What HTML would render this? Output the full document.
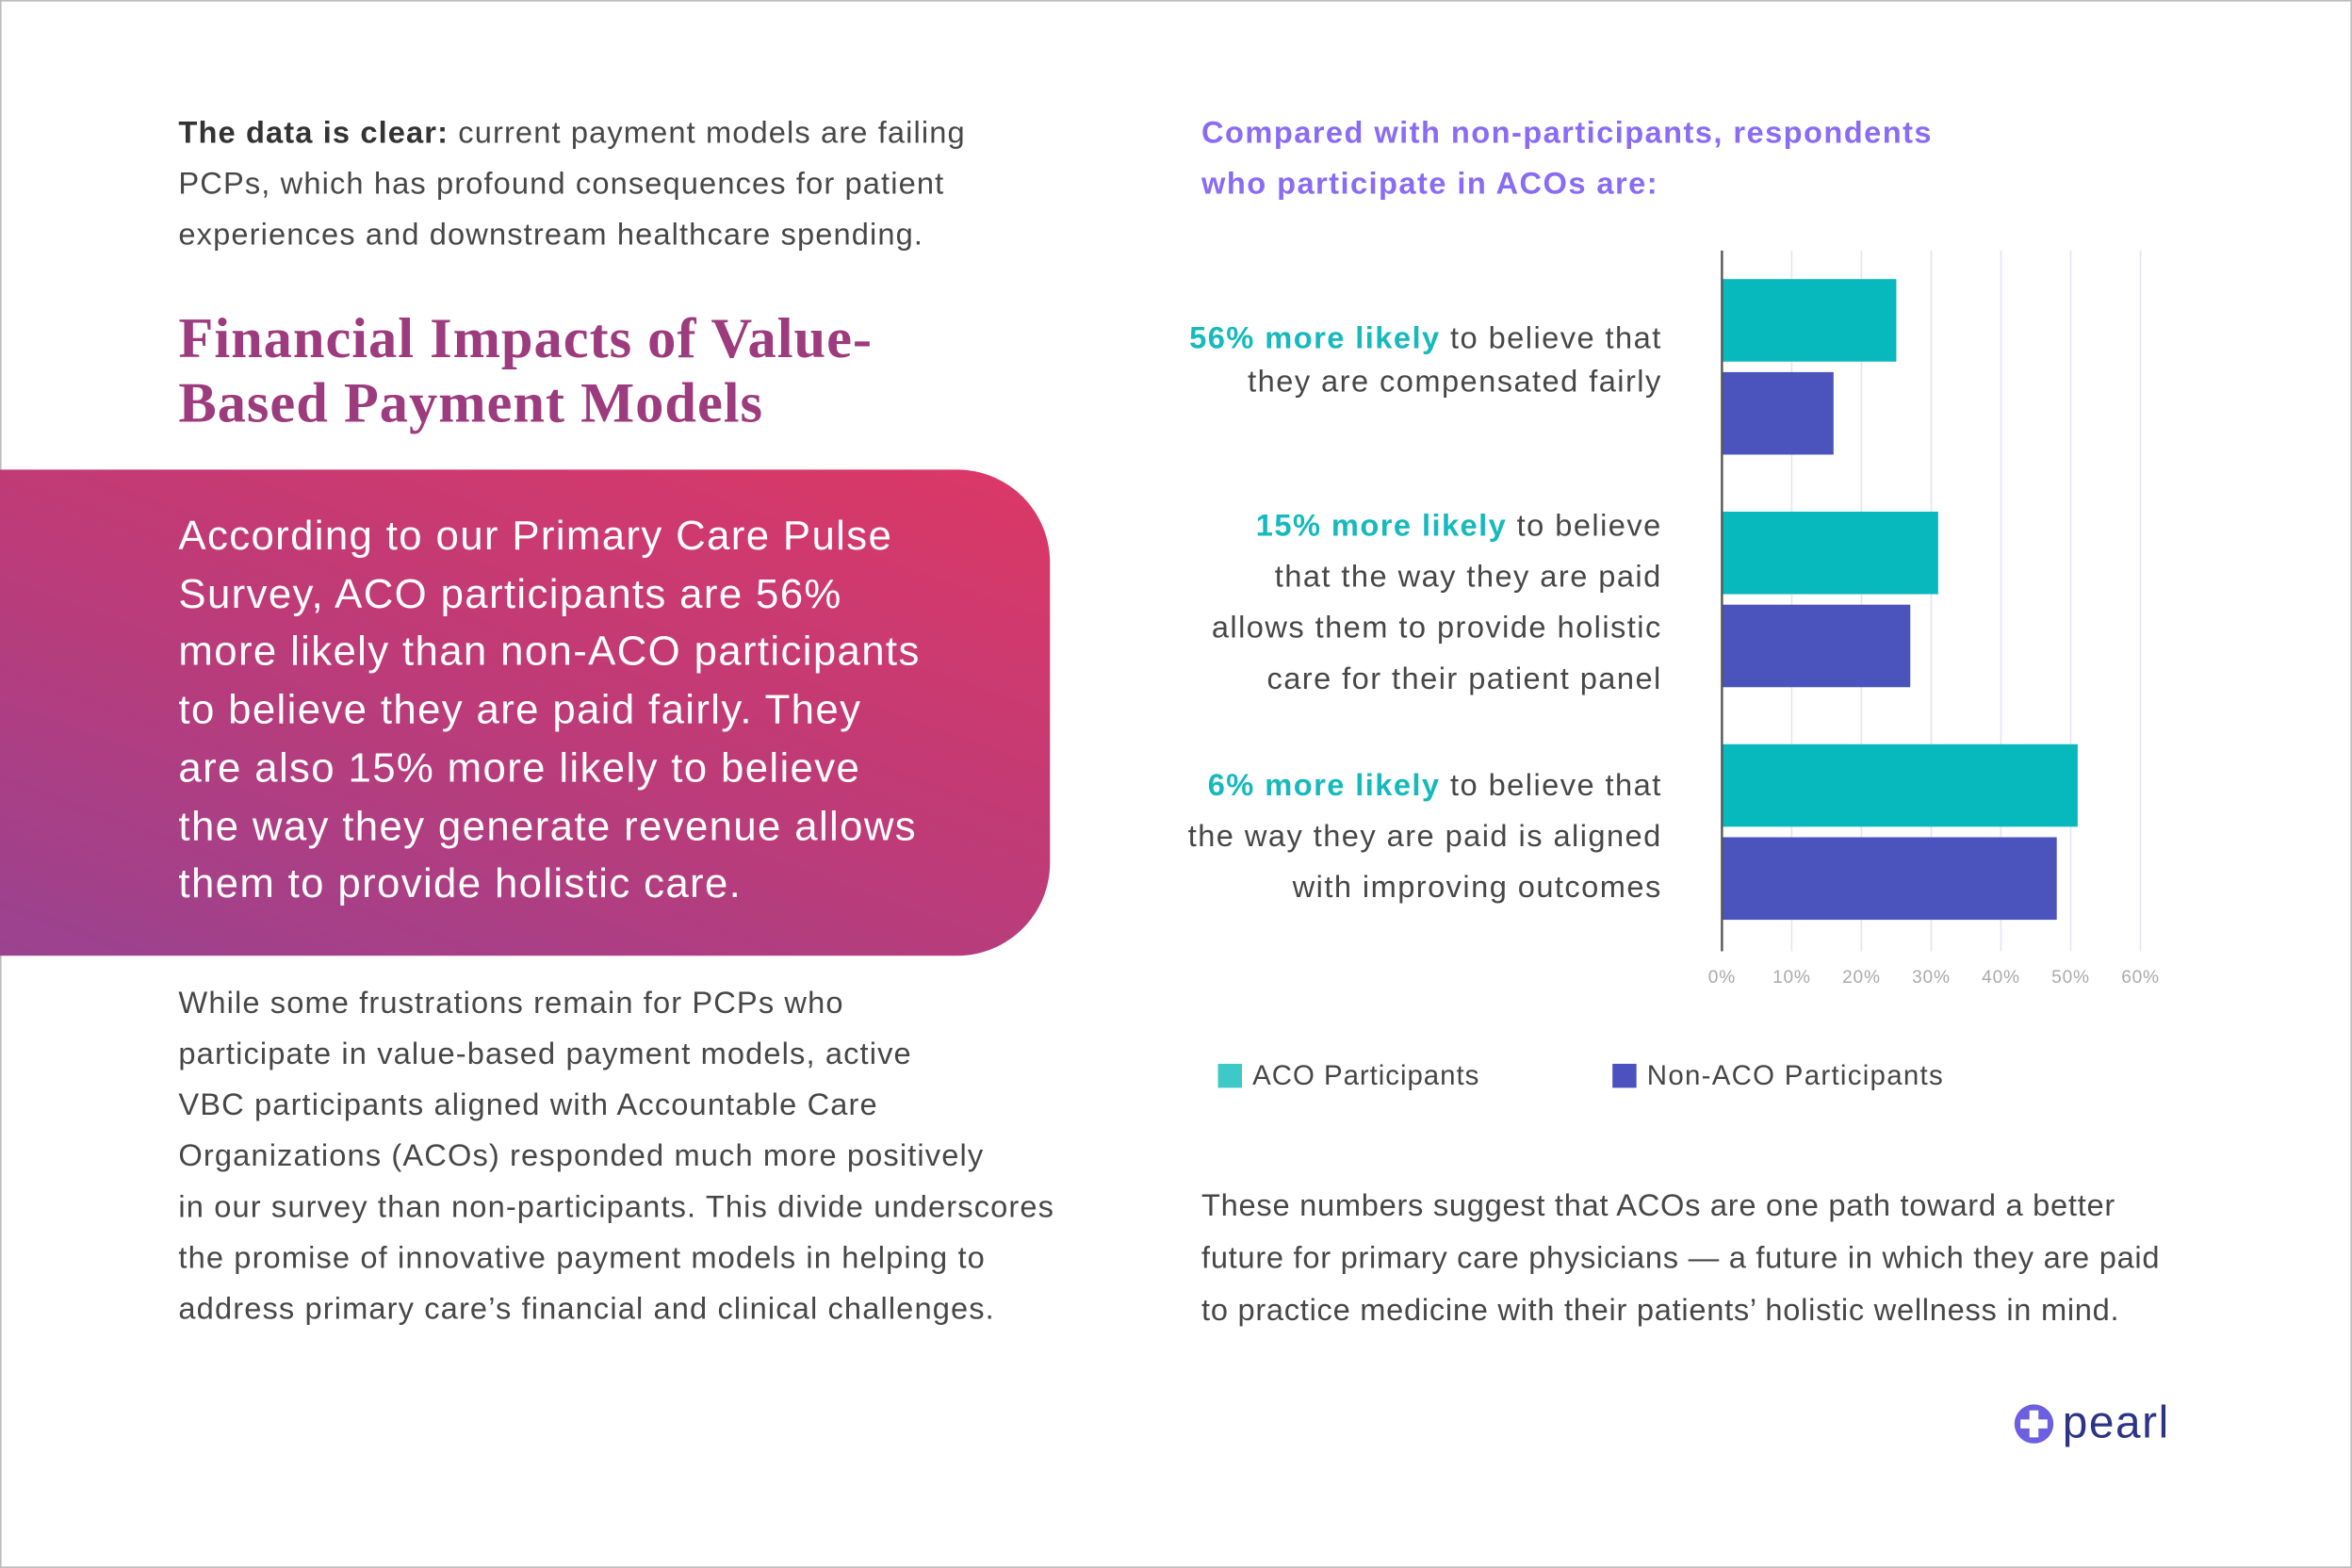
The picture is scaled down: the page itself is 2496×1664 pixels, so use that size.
<!DOCTYPE html>
<html><head><meta charset="utf-8"><style>
html,body{margin:0;padding:0;background:#fff;}
body{width:2496px;height:1664px;overflow:hidden;}
#stage{position:absolute;left:0;top:0;width:1568px;height:1045px;transform-origin:0 0;transform:scale(1.5918,1.5923);font-family:"Liberation Sans",sans-serif;color:#454545;}
.abs{position:absolute;white-space:nowrap;}
.p{font-size:20.5px;line-height:34px;color:#474747;letter-spacing:0.7px;}
.box{position:absolute;left:0;top:313px;width:700px;height:324px;border-radius:0 62px 62px 0;background:linear-gradient(20deg,#9a4290 0%,#bd3b78 50%,#dc3866 100%);}
.boxtxt{left:119px;top:338px;font-size:27.5px;line-height:38.7px;color:#fff;letter-spacing:0.85px;}
.h{left:119px;top:205px;font-family:"Liberation Serif",serif;font-weight:bold;font-size:38px;line-height:43px;color:#9c3b7d;letter-spacing:0.6px;}
.rt{left:801px;top:72px;font-size:20.5px;line-height:34px;font-weight:bold;color:#8a6cf4;letter-spacing:0.9px;}
.lab{font-size:20.5px;color:#474747;text-align:right;right:460px;letter-spacing:0.9px;}
.lab b{color:#16b9bd;}
</style></head><body>
<div id="stage">
<div class="abs" style="left:0;top:0;width:1566px;height:1043px;border:1px solid #bbb;"></div>
<div class="abs p" style="left:119px;top:72px;"><b style="color:#333">The data is clear:</b> current payment models are failing<br>PCPs, which has profound consequences for patient<br>experiences and downstream healthcare spending.</div>
<div class="abs h">Financial Impacts of Value-<br>Based Payment Models</div>
<div class="box"></div>
<div class="abs boxtxt">According to our Primary Care Pulse<br>Survey, ACO participants are 56%<br>more likely than non-ACO participants<br>to believe they are paid fairly. They<br>are also 15% more likely to believe<br>the way they generate revenue allows<br>them to provide holistic care.</div>
<div class="abs p" style="left:119px;top:652px;">While some frustrations remain for PCPs who<br>participate in value-based payment models, active<br>VBC participants aligned with Accountable Care<br>Organizations (ACOs) responded much more positively<br>in our survey than non-participants. This divide underscores<br>the promise of innovative payment models in helping to<br>address primary care’s financial and clinical challenges.</div>
<div class="abs rt">Compared with non-participants, respondents<br>who participate in ACOs are:</div>
<div class="abs lab" style="top:211px;line-height:29px;"><b>56% more likely</b> to believe that<br>they are compensated fairly</div>
<div class="abs lab" style="top:334px;line-height:34px;"><b>15% more likely</b> to believe<br>that the way they are paid<br>allows them to provide holistic<br>care for their patient panel</div>
<div class="abs lab" style="top:507px;line-height:34px;"><b>6% more likely</b> to believe that<br>the way they are paid is aligned<br>with improving outcomes</div>
<svg id="chart" class="abs" style="left:0;top:0;" width="1568" height="1045"></svg>
<div class="abs" style="left:812px;top:706px;font-size:18.5px;letter-spacing:0.6px;"><span style="display:inline-block;width:16px;height:16px;background:#3cc9c8;vertical-align:-2px;margin-right:7px;"></span>ACO Participants</div>
<div class="abs" style="left:1075px;top:706px;font-size:18.5px;letter-spacing:0.8px;"><span style="display:inline-block;width:16px;height:16px;background:#4b52c0;vertical-align:-2px;margin-right:7px;"></span>Non-ACO Participants</div>
<div class="abs p" style="left:801px;top:786px;line-height:35px;letter-spacing:0.45px;">These numbers suggest that ACOs are one path toward a better<br>future for primary care physicians — a future in which they are paid<br>to practice medicine with their patients’ holistic wellness in mind.</div>
<div class="abs" style="left:1342px;top:932px;">
<svg width="28" height="28" viewBox="0 0 28 28" style="vertical-align:middle"><circle cx="14" cy="14" r="13" fill="#6c5fe0"/><path d="M11 5h6v6h6v6h-6v6h-6v-6H5v-6h6z" fill="#fff"/></svg><span style="font-size:30px;color:#2c3585;vertical-align:middle;margin-left:5px;letter-spacing:1px;">pearl</span></div>
</div>
<script>
const categories=["Compensated fairly","Holistic care","Improving outcomes"];
const acoValues=[25,31,51];
const nonAcoValues=[16,27,48];
const tickValues=[0,10,20,30,40,50,60];
const tickLabels=["0%","10%","20%","30%","40%","50%","60%"];
const NS="http://www.w3.org/2000/svg";
const svg=document.getElementById('chart');
const x0=1148,x60=1427;
function xs(v){return x0+(x60-x0)*v/60;}
function gy(i){return 186+i*155;}
function mk(t,a){const e=document.createElementNS(NS,t);for(const k in a)e.setAttribute(k,a[k]);svg.appendChild(e);return e;}
tickValues.forEach((v,i)=>{
  if(v>0){const g=mk('line',{x1:xs(v),x2:xs(v),y1:167,y2:634,stroke:'#e2e3f6','stroke-width':1});
  
  }
  const t=mk('text',{x:xs(v),y:655,'text-anchor':'middle','font-size':12,fill:'#aaa','font-family':'Liberation Sans, sans-serif','letter-spacing':0.5});
  t.textContent=tickLabels[i];
  
  
});
categories.forEach((c,i)=>{
  const a=mk('rect',{x:x0,y:gy(i),width:xs(acoValues[i])-x0,height:55,fill:'#07b9bc'});
  
  
  const b=mk('rect',{x:x0,y:gy(i)+62,width:xs(nonAcoValues[i])-x0,height:55,fill:'#4b53bd'});
  
  
});
const ax=mk('line',{x1:x0,x2:x0,y1:167,y2:634,stroke:'#555','stroke-width':1.5});


</script>
</body></html>
